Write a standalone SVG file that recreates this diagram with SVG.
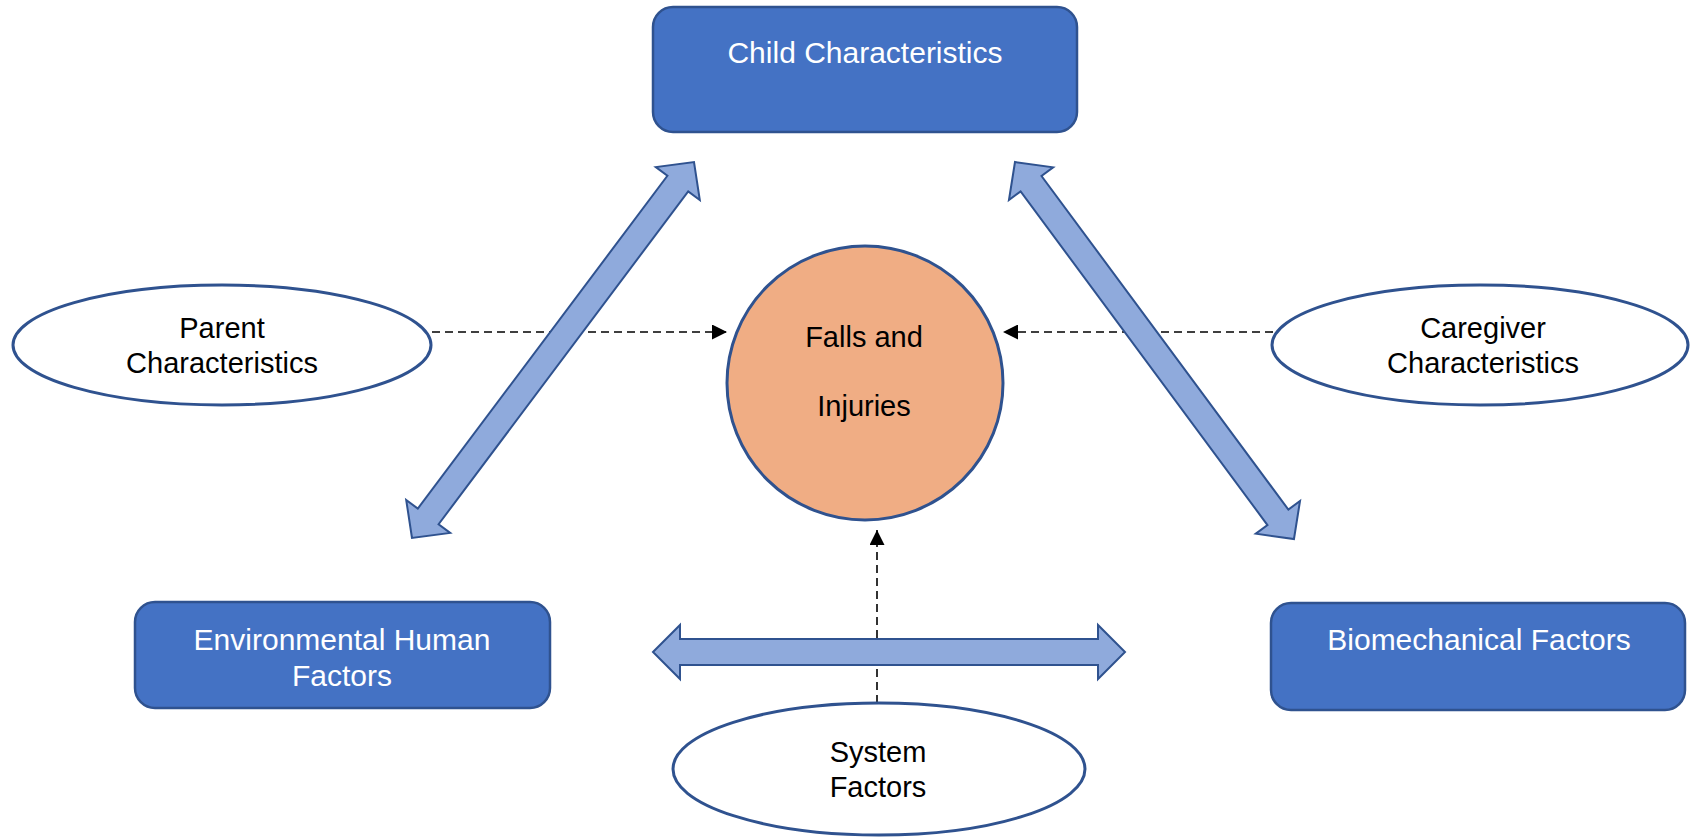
<svg xmlns="http://www.w3.org/2000/svg" width="1690" height="838" viewBox="0 0 1690 838">
<style>
.box{fill:#4472C4;stroke:#2F528F;stroke-width:2.5}
.oval{fill:#FFFFFF;stroke:#2F528F;stroke-width:3}
.circ{fill:#F0AD84;stroke:#2F528F;stroke-width:3}
.big{fill:#8FAADC;stroke:#2F528F;stroke-width:2;stroke-linejoin:miter}
.dash{fill:none;stroke:#000;stroke-width:1.6;stroke-dasharray:8 5}
.wt{font-family:"Liberation Sans",Arial,sans-serif;font-size:30px;fill:#FFFFFF;text-anchor:middle}
.bt{font-family:"Liberation Sans",Arial,sans-serif;font-size:29px;fill:#000000;text-anchor:middle}
</style>
<defs>
<marker id="ah" viewBox="0 0 10 10" refX="10" refY="5" markerWidth="15" markerHeight="15" markerUnits="userSpaceOnUse" orient="auto">
<path d="M0,0 L10,5 L0,10 Z" fill="#000"/>
</marker>
</defs>
<g id="connectors">
<line class="dash" x1="432" y1="332" x2="727" y2="332" marker-end="url(#ah)"/>
<line class="dash" x1="1273" y1="332" x2="1003" y2="332" marker-end="url(#ah)"/>
<line class="dash" x1="877" y1="703" x2="877" y2="530" marker-end="url(#ah)"/>
<path class="big" transform="translate(412,538) rotate(-53.13)" d="M0,0 L27,-27.5 L27,-13 L443,-13 L443,-27.5 L470,0 L443,27.5 L443,13 L27,13 L27,27.5 Z"/>
<path class="big" transform="translate(1015,162) rotate(53.5)" d="M0,0 L27,-27.5 L27,-13 L442,-13 L442,-27.5 L469,0 L442,27.5 L442,13 L27,13 L27,27.5 Z"/>
<path class="big" d="M653,652 L680,625 L680,639 L1098,639 L1098,625 L1125,652 L1098,679 L1098,665 L680,665 L680,679 Z"/>
</g>
<g id="child">
<rect class="box" x="653" y="7" width="424" height="125" rx="20"/>
<text class="wt" x="865" y="63">Child Characteristics</text>
</g>
<g id="falls">
<ellipse class="circ" cx="865" cy="383" rx="138" ry="137"/>
<text class="bt" x="864" y="347">Falls and</text>
<text class="bt" x="864" y="416">Injuries</text>
</g>
<g id="parent">
<ellipse class="oval" cx="222" cy="345" rx="209" ry="60"/>
<text class="bt" x="222" y="338">Parent</text>
<text class="bt" x="222" y="373">Characteristics</text>
</g>
<g id="caregiver">
<ellipse class="oval" cx="1480" cy="345" rx="208" ry="60"/>
<text class="bt" x="1483" y="338">Caregiver</text>
<text class="bt" x="1483" y="373">Characteristics</text>
</g>
<g id="environmental">
<rect class="box" x="135" y="602" width="415" height="106" rx="20"/>
<text class="wt" x="342" y="650">Environmental Human</text>
<text class="wt" x="342" y="686">Factors</text>
</g>
<g id="biomechanical">
<rect class="box" x="1271" y="603" width="414" height="107" rx="20"/>
<text class="wt" x="1479" y="650">Biomechanical Factors</text>
</g>
<g id="system">
<ellipse class="oval" cx="879" cy="769" rx="206" ry="66"/>
<text class="bt" x="878" y="762">System</text>
<text class="bt" x="878" y="797">Factors</text>
</g>
</svg>
